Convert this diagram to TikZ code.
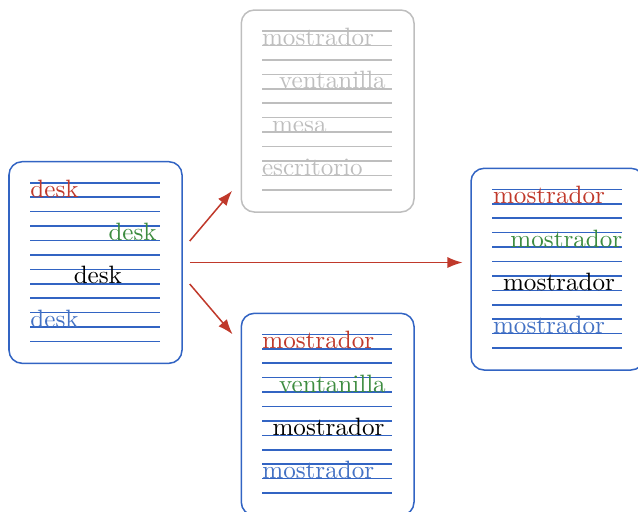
\documentclass[tikz,border=0pt]{standalone}
\usepackage{tikz}
\usetikzlibrary{arrows.meta,fit}

\definecolor{wordred}{RGB}{192,57,43}
\definecolor{wordgreen}{RGB}{61,140,64}
\definecolor{wordblue}{RGB}{68,114,196}
\definecolor{ruleblue}{RGB}{50,100,195}
\definecolor{ghost}{RGB}{190,190,190}

% twelve ruled lines inside a card: #1 card node, #2 colour
\newcommand\paperlines[2]{%
  \foreach \k in {0,...,11}
    \draw[#2, line width=0.6pt] ([shift={(21.8,21.8+14.43*\k)}]#1.north west) -- ++(129.5,0);}

\begin{document}
\begin{tikzpicture}[x=0.3984pt, y=-0.3984pt,
  card/.style={draw=#1, line width=0.6pt, rounded corners=5.2pt, inner sep=0pt},
  word/.style={text=#1, inner sep=0pt, font=\normalsize},
  arr/.style={draw=wordred, line width=0.6pt, -{Latex[length=6pt,width=4.4pt]}}]

\useasboundingbox (0,0) rectangle (638,511);

% cards
\node[card=ruleblue, fit={(9,161.7) (182,363.3)}] (L) {};
\node[card=ghost, fit={(241.3,10) (414,212)}] (T) {};
\node[card=ruleblue, fit={(241.3,313.3) (414,515.3)}] (B) {};
\node[card=ruleblue, fit={(471,168.3) (644,370)}] (R) {};

\paperlines{L}{ruleblue}
\paperlines{T}{ghost}
\paperlines{B}{ruleblue}
\paperlines{R}{ruleblue}

% left card
\node[word=wordred, anchor=base west] (l1) at ([shift={(21.7,36.2)}]L.north west) {desk};
\node[word=wordgreen, anchor=base east] (l2) at ([shift={(149,79.5)}]L.north west) {desk};
\node[word=black, anchor=base west] (l3) at ([shift={(65,122.8)}]L.north west) {desk};
\node[word=wordblue, anchor=base west] (l4) at ([shift={(21.7,166.1)}]L.north west) {desk};

% top card
\node[word=ghost, anchor=base west] (t1) at ([shift={(21,36.2)}]T.north west) {mostrador};
\node[word=ghost, anchor=base west] (t2) at ([shift={(38,79.5)}]T.north west) {ventanilla};
\node[word=ghost, anchor=base west] (t3) at ([shift={(31,122.8)}]T.north west) {mesa};
\node[word=ghost, anchor=base west] (t4) at ([shift={(21,166.1)}]T.north west) {escritorio};

% bottom card
\node[word=wordred, anchor=base west] (b1) at ([shift={(21.3,36.2)}]B.north west) {mostrador};
\node[word=wordgreen, anchor=base west] (b2) at ([shift={(38,79.5)}]B.north west) {ventanilla};
\node[word=black, anchor=base west] (b3) at ([shift={(31.5,122.8)}]B.north west) {mostrador};
\node[word=wordblue, anchor=base west] (b4) at ([shift={(21.3,166.1)}]B.north west) {mostrador};

% right card
\node[word=wordred, anchor=base west] (r1) at ([shift={(22.3,36.2)}]R.north west) {mostrador};
\node[word=wordgreen, anchor=base west] (r2) at ([shift={(39.7,79.5)}]R.north west) {mostrador};
\node[word=black, anchor=base west] (r3) at ([shift={(32.3,122.8)}]R.north west) {mostrador};
\node[word=wordblue, anchor=base west] (r4) at ([shift={(22.3,166.1)}]R.north west) {mostrador};

% connectors
\draw[arr] ([shift={(7,-21.5)}]L.east) -- ([shift={(-8.4,-22)}]T.south west);
\draw[arr] ([shift={(7,0)}]L.east) -- ([shift={(-7.7,0)}]L.east -| R.west);
\draw[arr] ([shift={(7,21.5)}]L.east) -- ([shift={(-8,21.7)}]B.north west);
\end{tikzpicture}
\end{document}
